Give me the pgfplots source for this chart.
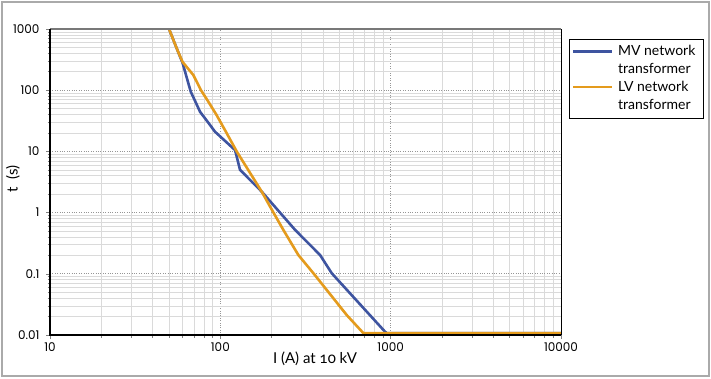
\documentclass[border=0pt]{standalone}
\usepackage{fontspec}
\usepackage{pgfplots}
\pgfplotsset{compat=1.18}
\setmainfont{Lato}
\newfontfamily\tickfont{Poppins}
\newfontfamily\labfont[Numbers=OldStyle]{Lato}
\definecolor{mvblue}{RGB}{62,84,160}
\definecolor{lvorange}{RGB}{228,155,29}
\definecolor{framegray}{RGB}{170,170,170}
\definecolor{majgrid}{RGB}{150,150,150}
\definecolor{mingrid}{RGB}{218,218,218}
\definecolor{topgray}{RGB}{120,120,120}

\begin{document}
\begin{tikzpicture}
\useasboundingbox (-50pt,-43pt) rectangle (661pt,335pt);
\begin{axis}[
  name=ax,
  scale only axis, width=511pt, height=306pt,
  xmode=log, ymode=log,
  xmin=10, xmax=10000, ymin=0.01, ymax=1000,
  xtick={10,100,1000,10000}, xticklabels={10,100,1000,10000},
  ytick={0.01,0.1,1,10,100,1000}, yticklabels={0.01,0.1,1,10,100,1000},
  minor xtick={20,30,40,50,60,70,80,90,200,300,400,500,600,700,800,900,2000,3000,4000,5000,6000,7000,8000,9000},
  minor ytick={0.02,0.03,0.04,0.05,0.06,0.07,0.08,0.09,0.2,0.3,0.4,0.5,0.6,0.7,0.8,0.9,2,3,4,5,6,7,8,9,20,30,40,50,60,70,80,90,200,300,400,500,600,700,800,900},
  grid=both,
  major grid style={majgrid, dotted, line width=0.8pt},
  minor grid style={mingrid, line width=0.6pt},
  axis line style={draw=none},
  tick align=outside, xtick pos=left, ytick pos=left,
  major tick length=4pt, minor tick length=2.5pt,
  tick style={gray, line width=0.6pt},
  xticklabel style={font=\tickfont\fontsize{12}{14}\selectfont},
  yticklabel style={font=\tickfont\fontsize{12}{14}\selectfont, xshift=-3pt},
  xlabel={I (A) at 10 kV}, ylabel={t~~(s)},
  every axis x label/.style={at={(axis description cs:0.5186,-0.0784)}, anchor=center, font=\labfont\fontsize{15}{17}\selectfont},
  every axis y label/.style={at={(axis description cs:-0.0724,0.51)}, anchor=center, rotate=90, font=\labfont\fontsize{15}{17}\selectfont},
  legend style={at={(axis description cs:1.0147,0.9657)}, anchor=north west,
    draw=black, line width=1pt, inner xsep=3pt, inner ysep=3.5pt,
    font=\fontsize{14}{17.8}\selectfont,
    nodes={inner xsep=1.5pt, inner ysep=0pt, text depth=},
    cells={anchor=base west}, column sep=3pt, row sep=0pt},
  legend image code/.code={\path (0pt,0pt); \draw[#1] (0pt,4.7pt) -- (39pt,4.7pt);},
]
\addplot[mvblue, line width=2.6pt, line join=round] coordinates {
  (50,1000) (56,450) (60,280) (67,95) (76,44.5) (87,27) (93,21) (119,11.2) (122,10.5)
  (130.5,5) (175,2.2) (275,0.52) (385,0.203) (451,0.102) (927,0.0113)
  (950,0.0107) (10000,0.0107)
};
\addlegendentry{\parbox[t]{81pt}{\strut MV network\\transformer\strut}}
\addplot[lvorange, line width=2.6pt, line join=round] coordinates {
  (50,1000) (56,450) (60,290) (69.4,177) (77,100) (85,65) (95,39.4) (109,19.8) (125,9.9)
  (175,2.2) (196,1.25) (234.5,0.52) (287,0.203) (352,0.102) (552,0.0212)
  (692,0.0107) (10000,0.0107)
};
\addlegendentry{\parbox[t]{81pt}{\strut LV network\\transformer\strut}}
\end{axis}
\draw[topgray, line width=1.5pt] (ax.north west) -- (ax.north east);
\draw[black, line width=1pt] (ax.north east) -- (ax.south east);
\draw[black, line width=2pt] (ax.north west) -- (ax.south west) -- (ax.south east);
\draw[framegray, line width=2pt] (-48.3pt,-40.7pt) rectangle (659.3pt,333.3pt);
\end{tikzpicture}
\end{document}
